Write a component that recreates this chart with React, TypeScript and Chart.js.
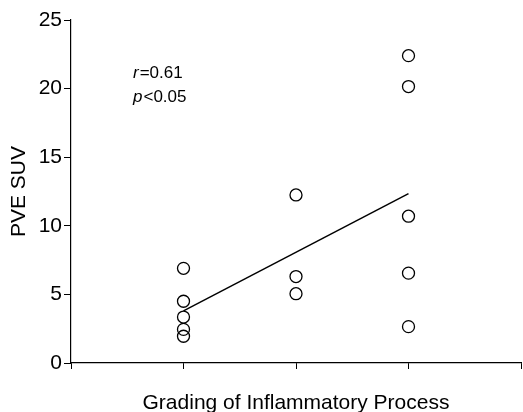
import React, { useEffect, useRef } from "react";
import { Chart, registerables } from "chart.js";

Chart.register(...registerables);

// ---- data ----
const gradeX = [1, 2, 3];
const grade1Values = [6.9, 4.5, 3.35, 2.45, 1.95];
const grade2Values = [12.25, 6.3, 5.05];
const grade3Values = [22.4, 20.15, 10.7, 6.55, 2.65];
const fitX = [1, 3];
const fitY = [3.8, 12.35];
const yTicks = [0, 5, 10, 15, 20, 25];
const xTitle = "Grading of Inflammatory Process";
const yTitle = "PVE SUV";
const statSymbols = ["r", "p"];
const statRest = ["=0.61", "<0.05"];

const FONT = "'Liberation Sans', Arial, Helvetica, sans-serif";

const annotationPlugin = {
  id: "statAnnotation",
  afterDraw(chart: any) {
    const { ctx, chartArea } = chart;
    ctx.save();
    ctx.fillStyle = "#000";
    ctx.textBaseline = "alphabetic";
    ctx.textAlign = "left";
    const x0 = chartArea.left + 62;
    const y0 = chartArea.top + 58;
    statSymbols.forEach((sym, i) => {
      const y = y0 + i * 23.5;
      ctx.font = `italic 17px ${FONT}`;
      ctx.fillText(sym, x0, y);
      const w = ctx.measureText(sym).width;
      ctx.font = `17px ${FONT}`;
      ctx.fillText(statRest[i], x0 + w + 1, y);
    });
    ctx.restore();
  },
};

export default function App() {
  const ref = useRef<HTMLCanvasElement | null>(null);

  useEffect(() => {
    if (!ref.current) return;
    const pts = [
      ...grade1Values.map((y) => ({ x: gradeX[0], y })),
      ...grade2Values.map((y) => ({ x: gradeX[1], y })),
      ...grade3Values.map((y) => ({ x: gradeX[2], y })),
    ];
    const chart = new Chart(ref.current, {
      type: "scatter",
      data: {
        datasets: [
          {
            type: "line",
            data: fitX.map((x, i) => ({ x, y: fitY[i] })),
            borderColor: "#000",
            borderWidth: 1.5,
            pointRadius: 0,
            fill: false,
          } as any,
          {
            data: pts,
            pointRadius: 6,
            pointBorderWidth: 1.3,
            borderColor: "#000",
            backgroundColor: "rgba(0,0,0,0)",
            pointBackgroundColor: "rgba(0,0,0,0)",
          },
        ],
      },
      options: {
        animation: false,
        responsive: false,
        maintainAspectRatio: false,
        layout: { autoPadding: false, padding: { top: 20, right: 2, left: 0, bottom: 0 } },
        plugins: {
          legend: { display: false },
          tooltip: { enabled: false },
        },
        scales: {
          x: {
            type: "linear",
            min: 0,
            max: 4,
            afterFit: (s: any) => {
              s.height = 49;
            },
            ticks: { display: false, stepSize: 1 },
            grid: {
              drawOnChartArea: false,
              drawTicks: true,
              tickLength: 6,
              tickColor: "#000",
              tickWidth: 1,
            },
            border: { display: true, color: "#000", width: 1.2 },
            title: {
              display: true,
              text: xTitle,
              color: "#000",
              font: { family: FONT, size: 21, lineHeight: 1 },
              padding: { top: 0, bottom: -2 },
            },
          },
          y: {
            type: "linear",
            min: 0,
            max: 25,
            afterFit: (s: any) => {
              s.width = 71;
            },
            afterBuildTicks: (s: any) => {
              s.ticks = yTicks.map((v) => ({ value: v }));
            },
            ticks: {
              color: "#000",
              font: { family: FONT, size: 21 },
              padding: 2,
            },
            grid: {
              drawOnChartArea: false,
              drawTicks: true,
              tickLength: 7,
              tickColor: "#000",
              tickWidth: 1,
            },
            border: { display: true, color: "#000", width: 1.2 },
            title: {
              display: true,
              text: yTitle,
              color: "#000",
              font: { family: FONT, size: 21, lineHeight: 1 },
              padding: { top: 8.5, bottom: 0 },
            },
          },
        },
      },
      plugins: [annotationPlugin],
    } as any);
    return () => chart.destroy();
  }, []);

  return (
    <div style={{ position: "absolute", left: 0, top: 0, width: 523, height: 412 }}>
      <canvas ref={ref} width={523} height={412} style={{ display: "block" }} />
    </div>
  );
}
